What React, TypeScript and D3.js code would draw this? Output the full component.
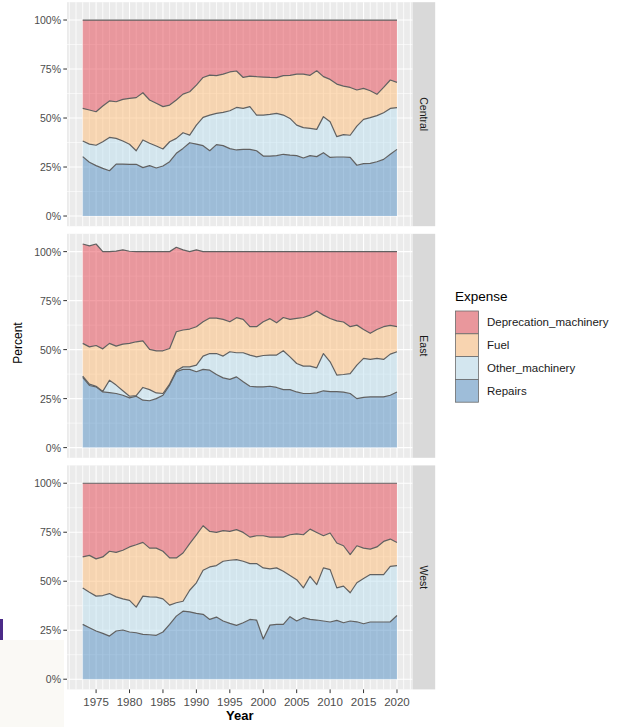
import React from 'react';
import * as d3 from 'd3';

const years = [1973,1974,1975,1976,1977,1978,1979,1980,1981,1982,1983,1984,1985,1986,1987,1988,1989,1990,1991,1992,1993,1994,1995,1996,1997,1998,1999,2000,2001,2002,2003,2004,2005,2006,2007,2008,2009,2010,2011,2012,2013,2014,2015,2016,2017,2018,2019,2020];

const expenses = ['Deprecation_machinery', 'Fuel', 'Other_machinery', 'Repairs'];
const regions = ['Central', 'East', 'West'];
const yTicks = [0, 25, 50, 75, 100];
const xTicks = [1975, 1980, 1985, 1990, 1995, 2000, 2005, 2010, 2015, 2020];

const centralRepairs = [30.3,27.4,25.7,24.3,23.1,26.5,26.5,26.4,26.4,24.7, 25.7,24.5,25.5,27.7,32.0,34.5,37.4,36.7,35.9,33.3, 36.4,35.9,34.4,33.7,34.0,34.0,33.3,30.6,30.6,30.8, 31.5,31.1,30.8,29.6,30.8,30.3,32.3,29.9,30.1,30.1, 29.9,25.9,26.7,26.9,27.7,28.9,31.5,34.0];
const centralOther = [8.0,9.3,10.4,13.6,17.0,13.1,11.8,10.2,6.9,14.1, 11.4,11.2,8.7,10.2,7.6,8.0,3.9,9.7,14.4,18.2, 16.0,17.0,19.3,21.7,20.9,21.8,18.2,20.9,21.3,21.6, 20.0,18.7,15.6,15.5,13.9,13.9,18.4,18.2,10.4,11.4, 11.3,20.0,22.6,23.3,23.5,23.8,23.4,21.3];
const centralFuel = [16.6,17.4,17.1,18.2,18.6,18.7,21.2,23.4,27.1,24.1, 22.1,21.8,21.6,18.7,19.6,19.7,22.1,20.4,20.4,20.4, 19.2,19.5,19.8,18.6,15.8,15.6,19.6,19.4,18.8,18.2, 20.1,22.0,26.0,27.3,27.1,29.9,20.4,21.6,26.8,24.8, 24.4,18.4,15.8,13.7,10.9,12.9,14.5,12.9];
const centralDep = [45.1,45.9,46.8,43.9,41.3,41.7,40.5,40.0,39.6,37.1, 40.8,42.5,44.2,43.4,40.8,37.8,36.6,33.2,29.3,28.1, 28.4,27.6,26.5,26.0,29.3,28.6,28.9,29.1,29.3,29.4, 28.4,28.2,27.6,27.6,28.2,25.9,28.9,30.3,32.7,33.7, 34.4,35.7,34.9,36.1,37.9,34.4,30.6,31.8];

const eastRepairs = [35.8,31.7,31.0,28.4,28.1,27.6,26.7,25.4,26.2,24.2, 23.9,25.0,26.7,31.9,38.7,39.9,39.9,38.7,39.9,39.5, 37.3,35.6,34.8,36.1,33.6,31.3,31.0,31.0,31.3,30.7, 29.6,29.6,28.4,27.6,27.6,27.9,29.0,28.6,28.6,28.3, 27.6,25.0,25.6,25.9,25.9,25.9,26.7,28.4];
const eastOther = [0.7,0.7,0.3,0.3,6.3,4.3,2.3,0.8,0.3,6.5, 5.7,2.9,0.9,0.5,0.5,1.3,1.3,3.4,6.8,8.5, 10.7,11.1,14.1,12.3,14.8,15.9,15.3,16.0,15.9,16.5, 19.8,16.7,14.5,14.0,14.0,12.8,19.0,15.2,8.4,9.0, 10.2,17.1,19.9,19.1,19.6,19.1,21.0,20.5];
const eastFuel = [16.7,19.0,20.8,21.7,18.8,19.9,23.8,27.0,27.5,23.8, 20.5,21.5,21.8,18.2,19.9,18.8,19.3,19.6,17.5,18.1, 18.1,18.7,15.3,17.9,17.0,14.5,15.4,17.2,18.6,16.5, 17.0,19.1,23.0,24.8,26.0,29.0,19.6,22.1,27.7,26.8, 23.9,20.4,14.8,13.3,14.8,16.7,14.7,12.8];
const eastDep = [50.7,51.5,51.8,49.6,46.8,48.5,48.1,47.0,46.0,45.5, 49.9,50.6,50.6,49.4,43.1,40.9,39.5,39.2,35.8,33.9, 33.9,34.6,35.8,33.7,34.6,38.3,38.3,35.8,34.2,36.3, 33.6,34.6,34.1,33.6,32.4,30.3,32.4,34.1,35.3,35.9, 38.3,37.5,39.7,41.7,39.7,38.3,37.6,38.3];

const westRepairs = [28.0,26.3,24.6,23.4,22.0,24.6,25.1,24.1,23.7,22.9, 22.7,22.4,24.1,28.0,32.2,34.7,34.4,33.6,33.1,30.5, 31.7,29.7,28.5,27.5,28.8,30.5,30.2,20.5,27.6,28.0, 28.0,31.9,29.7,31.4,30.5,30.2,29.7,29.2,30.0,28.8, 29.7,29.3,28.3,29.2,29.2,29.2,29.3,32.5];
const westOther = [18.6,18.1,17.8,19.3,21.7,17.4,15.9,16.1,13.1,19.5, 19.3,19.5,16.9,9.8,6.8,5.1,11.0,15.6,22.5,26.8, 26.3,30.5,32.2,33.5,31.4,28.5,28.8,36.3,28.7,28.8, 27.1,21.0,21.1,15.2,22.0,18.1,27.1,26.7,16.6,18.7, 14.4,19.9,23.1,24.2,24.2,24.2,28.3,25.5];
const westFuel = [15.8,18.8,19.0,19.7,21.6,22.7,24.8,27.3,31.8,27.4, 24.9,25.0,24.3,24.1,22.9,24.6,23.8,24.5,22.7,18.1, 16.9,15.6,14.7,15.3,14.7,13.5,14.2,16.4,16.2,15.7, 17.4,20.8,23.4,27.1,24.1,26.6,16.4,18.7,22.9,20.6, 19.5,18.9,15.5,13.0,14.1,16.9,13.9,11.8];
const westDep = [37.6,36.8,38.6,37.6,34.7,35.3,34.2,32.5,31.4,30.2, 33.1,33.1,34.7,38.1,38.1,35.6,30.8,26.3,21.7,24.6, 25.1,24.2,24.6,23.7,25.1,27.5,26.8,26.8,27.5,27.5, 27.5,26.3,25.8,26.3,23.4,25.1,26.8,25.4,30.5,31.9, 36.4,31.9,33.1,33.6,32.5,29.7,28.5,30.2];

const seriesByRegion: Record<string, Record<string, number[]>> = {
  Central: { Repairs: centralRepairs, Other_machinery: centralOther, Fuel: centralFuel, Deprecation_machinery: centralDep },
  East: { Repairs: eastRepairs, Other_machinery: eastOther, Fuel: eastFuel, Deprecation_machinery: eastDep },
  West: { Repairs: westRepairs, Other_machinery: westOther, Fuel: westFuel, Deprecation_machinery: westDep },
};

const fills: Record<string, string> = {
  Deprecation_machinery: '#E54450',
  Fuel: '#FFBD78',
  Other_machinery: '#BCE0EF',
  Repairs: '#508DC4',
};
const keyFills: Record<string, string> = {
  Deprecation_machinery: '#E9979C',
  Fuel: '#F8D4B0',
  Other_machinery: '#D3E6EF',
  Repairs: '#9EBDD9',
};

const FONT = '"Liberation Sans", Arial, Helvetica, sans-serif';

export default function App() {
  const W = 624, H = 727;
  const panelLeft = 67, panelRight = 412.7;
  const panelH = 224;
  const panelTops = [2.2, 233.8, 465.4];
  const stripW = 22.5;

  const [x0, x1] = d3.extent(years) as [number, number];
  const xPad = (x1 - x0) * 0.05;
  const x = d3.scaleLinear().domain([x0 - xPad, x1 + xPad]).range([panelLeft, panelRight]);

  const stackKeys = ['Repairs', 'Other_machinery', 'Fuel', 'Deprecation_machinery'];
  const stacked = regions.map(r => {
    const rows = years.map((yr, i) => {
      const row: any = { year: yr };
      stackKeys.forEach(k => { row[k] = seriesByRegion[r][k][i]; });
      return row;
    });
    return d3.stack().keys(stackKeys)(rows);
  });
  const maxTotal = d3.max(stacked.flatMap(s => s[s.length - 1].map(d => d[1]))) as number;
  const yPad = maxTotal * 0.05;

  const gridYears = d3.range(Math.ceil(x0 - xPad), Math.floor(x1 + xPad) + 1);
  const minorY = [12.5, 37.5, 62.5, 87.5];

  return (
    <svg width={W} height={H} style={{ position: 'absolute', left: 0, top: 0, background: '#fff' }} fontFamily={FONT}>
      <rect x={0} y={0} width={W} height={H} fill="#ffffff" />
      <rect x={0} y={640} width={64} height={87} fill="#FAF9F5" />
      <rect x={0} y={619} width={3} height={21} fill="#4B2A88" />
      {regions.map((r, pi) => {
        const top = panelTops[pi];
        const y = d3.scaleLinear().domain([-yPad, maxTotal + yPad]).range([top + panelH, top]);
        const area = d3.area<any>().x(d => x(d.data.year)).y0(d => y(d[0])).y1(d => y(d[1]));
        const line = d3.line<any>().x(d => x(d.data.year)).y(d => y(d[1]));
        return (
          <g key={r}>
            <rect x={panelLeft} y={top} width={panelRight - panelLeft} height={panelH} fill="#EBEBEB" />
            {minorY.map(v => (
              <line key={'m' + v} x1={panelLeft} x2={panelRight} y1={y(v)} y2={y(v)} stroke="#fff" strokeWidth={0.6} />
            ))}
            {yTicks.map(v => (
              <line key={'g' + v} x1={panelLeft} x2={panelRight} y1={y(v)} y2={y(v)} stroke="#fff" strokeWidth={1.1} />
            ))}
            {gridYears.map(v => (
              <line key={'v' + v} x1={x(v)} x2={x(v)} y1={top} y2={top + panelH} stroke="#fff" strokeWidth={xTicks.includes(v) ? 1.1 : 0.8} />
            ))}
            {stacked[pi].map(s => (
              <path key={s.key} d={area(s as any) as string} fill={fills[s.key]} fillOpacity={0.5} />
            ))}
            {stacked[pi].map(s => (
              <path key={'l' + s.key} d={line(s as any) as string} fill="none" stroke="#616161" strokeWidth={1.2} strokeLinejoin="round" />
            ))}
            <rect x={panelRight} y={top} width={stripW} height={panelH} fill="#D9D9D9" />
            <text transform={`translate(${panelRight + stripW / 2},${top + panelH / 2}) rotate(90)`} textAnchor="middle" dominantBaseline="central" fontSize={10.5} fill="#1A1A1A">{r}</text>
            {yTicks.map(v => (
              <g key={'t' + v}>
                <line x1={panelLeft - 3.7} x2={panelLeft} y1={y(v)} y2={y(v)} stroke="#333" strokeWidth={1} />
                <text x={panelLeft - 6} y={y(v)} textAnchor="end" dominantBaseline="central" fontSize={10.5} fill="#4D4D4D">{v + '%'}</text>
              </g>
            ))}
            {pi === regions.length - 1 && xTicks.map(v => (
              <g key={'xt' + v}>
                <line x1={x(v)} x2={x(v)} y1={top + panelH} y2={top + panelH + 3.7} stroke="#333" strokeWidth={1} />
                <text x={x(v)} y={top + panelH + 16.5} textAnchor="middle" fontSize={11.5} fill="#4D4D4D">{v}</text>
              </g>
            ))}
          </g>
        );
      })}
      <text x={(panelLeft + panelRight) / 2} y={720} textAnchor="middle" fontSize={13} fontWeight="bold" fill="#000">Year</text>
      <text transform={`translate(18,343) rotate(-90)`} textAnchor="middle" dominantBaseline="central" fontSize={12} fill="#000">Percent</text>
      <g>
        <text x={455} y={301} fontSize={13.5} fill="#000">Expense</text>
        {expenses.map((e, i) => (
          <g key={e}>
            <rect x={455.5} y={311 + i * 22.8} width={23} height={22.8} fill={keyFills[e]} stroke="#6B6B6B" strokeWidth={0.8} />
            <text x={487} y={311 + i * 22.8 + 11.4} dominantBaseline="central" fontSize={11.5} fill="#1A1A1A">{e}</text>
          </g>
        ))}
      </g>
    </svg>
  );
}
